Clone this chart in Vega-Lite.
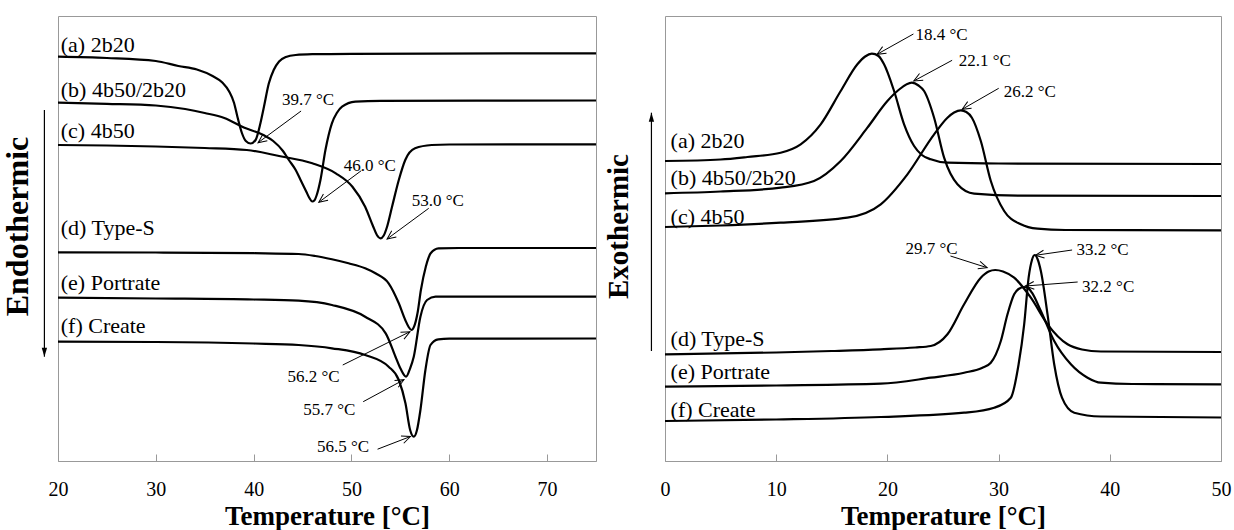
{
  "$schema": "https://vega.github.io/schema/vega-lite/v6.json",
  "padding": {"left": 0, "top": 15, "right": 0, "bottom": 0},
  "background": "white",
  "spacing": 2,
  "config": {
    "font": "Liberation Serif",
    "view": {"stroke": "#999", "strokeWidth": 1},
    "axis": {"grid": false}
  },
  "datasets": {
    "heating": [
      {"sample": "a", "T": 20, "signal": 404.3}, {"sample": "a", "T": 25, "signal": 403}, {"sample": "a", "T": 30, "signal": 400},
      {"sample": "a", "T": 32.3, "signal": 395}, {"sample": "a", "T": 34.2, "signal": 391.5}, {"sample": "a", "T": 35.8, "signal": 385},
      {"sample": "a", "T": 36.8, "signal": 378.5}, {"sample": "a", "T": 37.5, "signal": 369.5}, {"sample": "a", "T": 38, "signal": 358},
      {"sample": "a", "T": 38.3, "signal": 346}, {"sample": "a", "T": 38.8, "signal": 328}, {"sample": "a", "T": 39.2, "signal": 320},
      {"sample": "a", "T": 39.7, "signal": 317.5}, {"sample": "a", "T": 40.2, "signal": 321}, {"sample": "a", "T": 40.7, "signal": 338},
      {"sample": "a", "T": 41.05, "signal": 354}, {"sample": "a", "T": 41.55, "signal": 377.5}, {"sample": "a", "T": 42.05, "signal": 391},
      {"sample": "a", "T": 42.6, "signal": 399.5}, {"sample": "a", "T": 43.3, "signal": 404}, {"sample": "a", "T": 44.3, "signal": 406},
      {"sample": "a", "T": 46, "signal": 406.8}, {"sample": "a", "T": 50, "signal": 407.2}, {"sample": "a", "T": 75, "signal": 407.7},

      {"sample": "b", "T": 20, "signal": 358.3}, {"sample": "b", "T": 25, "signal": 357.2}, {"sample": "b", "T": 30, "signal": 355.5},
      {"sample": "b", "T": 33, "signal": 352}, {"sample": "b", "T": 35, "signal": 348}, {"sample": "b", "T": 37, "signal": 343},
      {"sample": "b", "T": 39, "signal": 333.5}, {"sample": "b", "T": 41, "signal": 326}, {"sample": "b", "T": 42, "signal": 320},
      {"sample": "b", "T": 43, "signal": 310}, {"sample": "b", "T": 43.6, "signal": 301}, {"sample": "b", "T": 44.3, "signal": 291},
      {"sample": "b", "T": 44.8, "signal": 281}, {"sample": "b", "T": 45.4, "signal": 269}, {"sample": "b", "T": 45.7, "signal": 263},
      {"sample": "b", "T": 46, "signal": 259.5}, {"sample": "b", "T": 46.2, "signal": 260.5}, {"sample": "b", "T": 46.45, "signal": 266},
      {"sample": "b", "T": 46.83, "signal": 281}, {"sample": "b", "T": 47.34, "signal": 311}, {"sample": "b", "T": 48, "signal": 337.7},
      {"sample": "b", "T": 48.5, "signal": 348}, {"sample": "b", "T": 49.04, "signal": 354.3}, {"sample": "b", "T": 50.4, "signal": 359.3},
      {"sample": "b", "T": 53, "signal": 360.2}, {"sample": "b", "T": 75, "signal": 360.5},

      {"sample": "c", "T": 20, "signal": 316}, {"sample": "c", "T": 25, "signal": 315.5}, {"sample": "c", "T": 30, "signal": 314.5},
      {"sample": "c", "T": 35, "signal": 313}, {"sample": "c", "T": 39.3, "signal": 311}, {"sample": "c", "T": 42.6, "signal": 305},
      {"sample": "c", "T": 46, "signal": 297.7}, {"sample": "c", "T": 48.4, "signal": 287.7}, {"sample": "c", "T": 50.1, "signal": 274.3},
      {"sample": "c", "T": 51.4, "signal": 254.3}, {"sample": "c", "T": 52.2, "signal": 235}, {"sample": "c", "T": 52.6, "signal": 226},
      {"sample": "c", "T": 52.97, "signal": 222.7}, {"sample": "c", "T": 53.3, "signal": 225.5}, {"sample": "c", "T": 53.6, "signal": 233},
      {"sample": "c", "T": 54.15, "signal": 254.3}, {"sample": "c", "T": 54.84, "signal": 281}, {"sample": "c", "T": 55.5, "signal": 301},
      {"sample": "c", "T": 56.5, "signal": 312.7}, {"sample": "c", "T": 58.2, "signal": 316}, {"sample": "c", "T": 60, "signal": 316.5},
      {"sample": "c", "T": 75, "signal": 316.7},

      {"sample": "d", "T": 20, "signal": 208.7}, {"sample": "d", "T": 30, "signal": 208.5}, {"sample": "d", "T": 40, "signal": 207.8},
      {"sample": "d", "T": 44.6, "signal": 207}, {"sample": "d", "T": 46.3, "signal": 205}, {"sample": "d", "T": 48, "signal": 201.7},
      {"sample": "d", "T": 49.7, "signal": 197.7}, {"sample": "d", "T": 51.4, "signal": 192.7}, {"sample": "d", "T": 52.45, "signal": 187.7},
      {"sample": "d", "T": 53.8, "signal": 177.7}, {"sample": "d", "T": 54.84, "signal": 157.7}, {"sample": "d", "T": 55.5, "signal": 141},
      {"sample": "d", "T": 55.85, "signal": 134}, {"sample": "d", "T": 56.13, "signal": 131}, {"sample": "d", "T": 56.4, "signal": 134.3},
      {"sample": "d", "T": 56.75, "signal": 147.7}, {"sample": "d", "T": 57.1, "signal": 171}, {"sample": "d", "T": 57.6, "signal": 194.3},
      {"sample": "d", "T": 58.1, "signal": 207.7}, {"sample": "d", "T": 58.9, "signal": 212.7}, {"sample": "d", "T": 61, "signal": 213},
      {"sample": "d", "T": 75, "signal": 213},

      {"sample": "e", "T": 20, "signal": 163.3}, {"sample": "e", "T": 30, "signal": 162.5}, {"sample": "e", "T": 40, "signal": 161.5},
      {"sample": "e", "T": 44.6, "signal": 160.3}, {"sample": "e", "T": 48, "signal": 156}, {"sample": "e", "T": 51.4, "signal": 144.3},
      {"sample": "e", "T": 53.5, "signal": 127.7}, {"sample": "e", "T": 54.5, "signal": 104.3}, {"sample": "e", "T": 55, "signal": 92.7},
      {"sample": "e", "T": 55.58, "signal": 84.3}, {"sample": "e", "T": 56, "signal": 92.7}, {"sample": "e", "T": 56.37, "signal": 104.3},
      {"sample": "e", "T": 57.05, "signal": 144.3}, {"sample": "e", "T": 57.73, "signal": 161}, {"sample": "e", "T": 58.6, "signal": 164.3},
      {"sample": "e", "T": 60, "signal": 164.3}, {"sample": "e", "T": 75, "signal": 164.3},

      {"sample": "f", "T": 20, "signal": 119.3}, {"sample": "f", "T": 30, "signal": 119}, {"sample": "f", "T": 40, "signal": 117.5},
      {"sample": "f", "T": 44.6, "signal": 116}, {"sample": "f", "T": 48, "signal": 112.7}, {"sample": "f", "T": 51.4, "signal": 106},
      {"sample": "f", "T": 53.8, "signal": 94.3}, {"sample": "f", "T": 54.84, "signal": 81}, {"sample": "f", "T": 55.52, "signal": 57.7},
      {"sample": "f", "T": 56, "signal": 31}, {"sample": "f", "T": 56.37, "signal": 24.3}, {"sample": "f", "T": 56.7, "signal": 31},
      {"sample": "f", "T": 57.05, "signal": 51}, {"sample": "f", "T": 57.56, "signal": 91}, {"sample": "f", "T": 58.08, "signal": 116},
      {"sample": "f", "T": 58.88, "signal": 121.7}, {"sample": "f", "T": 60, "signal": 122.3}, {"sample": "f", "T": 75, "signal": 122.5}
    ],
    "cooling": [
      {"sample": "a", "T": 0, "signal": 300}, {"sample": "a", "T": 5, "signal": 301.5}, {"sample": "a", "T": 7.4, "signal": 304},
      {"sample": "a", "T": 10.4, "signal": 308.3}, {"sample": "a", "T": 12.2, "signal": 316.7}, {"sample": "a", "T": 14, "signal": 336.7},
      {"sample": "a", "T": 15.8, "signal": 370}, {"sample": "a", "T": 17.3, "signal": 396.7}, {"sample": "a", "T": 18, "signal": 404.5},
      {"sample": "a", "T": 18.6, "signal": 407.3}, {"sample": "a", "T": 19.2, "signal": 405}, {"sample": "a", "T": 19.7, "signal": 396.7},
      {"sample": "a", "T": 20.6, "signal": 370}, {"sample": "a", "T": 21.5, "signal": 336.7}, {"sample": "a", "T": 22.4, "signal": 315},
      {"sample": "a", "T": 23.1, "signal": 306}, {"sample": "a", "T": 23.9, "signal": 301.7}, {"sample": "a", "T": 25.4, "signal": 298.3},
      {"sample": "a", "T": 30, "signal": 297.5}, {"sample": "a", "T": 50, "signal": 297},

      {"sample": "b", "T": 0, "signal": 267.7}, {"sample": "b", "T": 5, "signal": 269.5}, {"sample": "b", "T": 10.4, "signal": 273.3},
      {"sample": "b", "T": 13.4, "signal": 280}, {"sample": "b", "T": 15.8, "signal": 300}, {"sample": "b", "T": 18.2, "signal": 333.3},
      {"sample": "b", "T": 20, "signal": 360}, {"sample": "b", "T": 21, "signal": 371}, {"sample": "b", "T": 22.2, "signal": 378.3},
      {"sample": "b", "T": 22.8, "signal": 375.5}, {"sample": "b", "T": 23.3, "signal": 370}, {"sample": "b", "T": 24.2, "signal": 343.3},
      {"sample": "b", "T": 25.1, "signal": 303.3}, {"sample": "b", "T": 26.3, "signal": 276.7}, {"sample": "b", "T": 27.8, "signal": 267.3},
      {"sample": "b", "T": 32, "signal": 265.3}, {"sample": "b", "T": 50, "signal": 265},

      {"sample": "c", "T": 0, "signal": 234}, {"sample": "c", "T": 5, "signal": 235.5}, {"sample": "c", "T": 10.4, "signal": 238.3},
      {"sample": "c", "T": 16.4, "signal": 243.3}, {"sample": "c", "T": 19.4, "signal": 256.7}, {"sample": "c", "T": 21.8, "signal": 286.7},
      {"sample": "c", "T": 24.2, "signal": 326.7}, {"sample": "c", "T": 25.4, "signal": 343.3}, {"sample": "c", "T": 26, "signal": 348.5},
      {"sample": "c", "T": 26.6, "signal": 350.7}, {"sample": "c", "T": 27.1, "signal": 349}, {"sample": "c", "T": 27.6, "signal": 343.3},
      {"sample": "c", "T": 28.4, "signal": 320}, {"sample": "c", "T": 29.3, "signal": 280}, {"sample": "c", "T": 30.5, "signal": 250},
      {"sample": "c", "T": 32, "signal": 236.7}, {"sample": "c", "T": 33.5, "signal": 232.3}, {"sample": "c", "T": 36, "signal": 231},
      {"sample": "c", "T": 50, "signal": 230.7},

      {"sample": "d", "T": 0, "signal": 106.7}, {"sample": "d", "T": 10, "signal": 108.5}, {"sample": "d", "T": 15, "signal": 110},
      {"sample": "d", "T": 19.4, "signal": 111.7}, {"sample": "d", "T": 22.5, "signal": 113.5}, {"sample": "d", "T": 23.9, "signal": 115},
      {"sample": "d", "T": 25.4, "signal": 126.7}, {"sample": "d", "T": 26.9, "signal": 156.7}, {"sample": "d", "T": 28.4, "signal": 183.3},
      {"sample": "d", "T": 29.1, "signal": 189.5}, {"sample": "d", "T": 29.7, "signal": 191}, {"sample": "d", "T": 30.4, "signal": 189.5},
      {"sample": "d", "T": 31.4, "signal": 183.3}, {"sample": "d", "T": 32.9, "signal": 163.3}, {"sample": "d", "T": 34.4, "signal": 136.7},
      {"sample": "d", "T": 36.2, "signal": 116.7}, {"sample": "d", "T": 37.5, "signal": 111.5}, {"sample": "d", "T": 39.2, "signal": 109.5},
      {"sample": "d", "T": 50, "signal": 109},

      {"sample": "e", "T": 0, "signal": 74.3}, {"sample": "e", "T": 10, "signal": 75.5}, {"sample": "e", "T": 19.4, "signal": 77.3},
      {"sample": "e", "T": 23.9, "signal": 83.3}, {"sample": "e", "T": 26.9, "signal": 88.3}, {"sample": "e", "T": 28.5, "signal": 93},
      {"sample": "e", "T": 29.3, "signal": 98.3}, {"sample": "e", "T": 30.2, "signal": 120}, {"sample": "e", "T": 30.8, "signal": 146.7},
      {"sample": "e", "T": 31.4, "signal": 166.7}, {"sample": "e", "T": 31.8, "signal": 172}, {"sample": "e", "T": 32.3, "signal": 174},
      {"sample": "e", "T": 32.7, "signal": 172.5}, {"sample": "e", "T": 33, "signal": 168.3}, {"sample": "e", "T": 33.8, "signal": 150},
      {"sample": "e", "T": 35, "signal": 120}, {"sample": "e", "T": 36.5, "signal": 96.7}, {"sample": "e", "T": 38, "signal": 83.3},
      {"sample": "e", "T": 39.2, "signal": 78.3}, {"sample": "e", "T": 42, "signal": 77}, {"sample": "e", "T": 50, "signal": 76.7},

      {"sample": "f", "T": 0, "signal": 40}, {"sample": "f", "T": 10, "signal": 41.5}, {"sample": "f", "T": 19.4, "signal": 44},
      {"sample": "f", "T": 26.9, "signal": 48.3}, {"sample": "f", "T": 29.6, "signal": 53.3}, {"sample": "f", "T": 31.1, "signal": 63.3},
      {"sample": "f", "T": 31.8, "signal": 96.7}, {"sample": "f", "T": 32.3, "signal": 136.7}, {"sample": "f", "T": 32.7, "signal": 183.3},
      {"sample": "f", "T": 33, "signal": 201}, {"sample": "f", "T": 33.25, "signal": 206}, {"sample": "f", "T": 33.5, "signal": 202},
      {"sample": "f", "T": 33.8, "signal": 190}, {"sample": "f", "T": 34.4, "signal": 146.7}, {"sample": "f", "T": 35, "signal": 96.7},
      {"sample": "f", "T": 35.7, "signal": 63.3}, {"sample": "f", "T": 36.8, "signal": 48.3}, {"sample": "f", "T": 39.2, "signal": 44.5},
      {"sample": "f", "T": 50, "signal": 43.5}
    ],
    "heatLabels": [
      {"label": "(a) 2b20", "T": 20.28, "signal": 409.3},
      {"label": "(b) 4b50/2b20", "T": 20.28, "signal": 364.3},
      {"label": "(c) 4b50", "T": 20.28, "signal": 322.7},
      {"label": "(d) Type-S", "T": 20.28, "signal": 226},
      {"label": "(e) Portrate", "T": 20.28, "signal": 171},
      {"label": "(f) Create", "T": 20.28, "signal": 127.7}
    ],
    "coolLabels": [
      {"label": "(a) 2b20", "T": 0.5, "signal": 312.7},
      {"label": "(b) 4b50/2b20", "T": 0.5, "signal": 276},
      {"label": "(c) 4b50", "T": 0.5, "signal": 237.3},
      {"label": "(d) Type-S", "T": 0.5, "signal": 115},
      {"label": "(e) Portrate", "T": 0.5, "signal": 81.7},
      {"label": "(f) Create", "T": 0.5, "signal": 44.3}
    ],
    "heatNotes": [
      {"label": "39.7 °C", "tx": 42.9, "ty": 356, "x1": 44.85, "y1": 350, "x2": 40.45, "y2": 318.3, "angle": 234},
      {"label": "46.0 °C", "tx": 49.2, "ty": 290, "x1": 51.0, "y1": 290.3, "x2": 46.66, "y2": 258.7, "angle": 233.5},
      {"label": "53.0 °C", "tx": 56.17, "ty": 255, "x1": 57.9, "y1": 252.7, "x2": 53.64, "y2": 222, "angle": 233.6},
      {"label": "56.2 °C", "tx": 43.45, "ty": 79.5, "x1": 49.11, "y1": 96, "x2": 55.98, "y2": 129.3, "angle": 63},
      {"label": "55.7 °C", "tx": 45.07, "ty": 46, "x1": 51.2, "y1": 59.3, "x2": 55.37, "y2": 81.3, "angle": 61},
      {"label": "56.5 °C", "tx": 46.48, "ty": 9.5, "x1": 52.67, "y1": 11.8, "x2": 56.03, "y2": 24.5, "angle": 69}
    ],
    "coolNotes": [
      {"label": "18.4 °C", "tx": 22.52, "ty": 421, "x1": 22.34, "y1": 427, "x2": 19.07, "y2": 406.7, "angle": 240},
      {"label": "22.1 °C", "tx": 26.41, "ty": 395, "x1": 25.82, "y1": 400.7, "x2": 22.37, "y2": 380, "angle": 241.7},
      {"label": "26.2 °C", "tx": 30.46, "ty": 364.5, "x1": 30.01, "y1": 372.7, "x2": 26.72, "y2": 351.7, "angle": 240},
      {"label": "29.7 °C", "tx": 21.62, "ty": 207, "x1": 25.67, "y1": 205, "x2": 28.97, "y2": 193.3, "angle": 107.7},
      {"label": "33.2 °C", "tx": 37.0, "ty": 206, "x1": 36.61, "y1": 211, "x2": 33.31, "y2": 205.7, "angle": 262},
      {"label": "32.2 °C", "tx": 37.51, "ty": 169.5, "x1": 37.11, "y1": 179, "x2": 32.41, "y2": 175, "angle": 265.6}
    ],
    "heatArrow": [{"T": 18.61, "y1": 351, "y2": 104.3}],
    "coolArrow": [{"T": -1.22, "y1": 110, "y2": 348.3}]
  },
  "hconcat": [
    {
      "width": 538,
      "height": 445,
      "layer": [
        {
          "data": {"name": "heating"},
          "mark": {"type": "line", "interpolate": "monotone", "color": "black", "strokeWidth": 2.2},
          "encoding": {
            "x": {
              "field": "T", "type": "quantitative",
              "scale": {"domain": [20, 75], "nice": false, "zero": false},
              "axis": {
                "title": "Temperature [°C]", "values": [20, 30, 40, 50, 60, 70], "format": "d",
                "labelFontSize": 20, "labelColor": "black", "labelPadding": 25, "labelFlush": false,
                "tickSize": -7, "tickColor": "#999", "domainColor": "#999",
                "titleFontSize": 27, "titleFontWeight": "bold", "titleColor": "black", "titlePadding": 4
              }
            },
            "y": {
              "field": "signal", "type": "quantitative",
              "scale": {"domain": [0, 445], "nice": false, "zero": false},
              "axis": {
                "title": "Endothermic", "labels": false, "ticks": false, "domain": false,
                "titleFontSize": 32, "titleFontWeight": "bold", "titleColor": "black",
                "titlePadding": 24, "titleY": 210
              }
            },
            "detail": {"field": "sample"}
          }
        },
        {
          "data": {"name": "heatLabels"},
          "mark": {"type": "text", "align": "left", "baseline": "alphabetic", "fontSize": 22, "color": "black"},
          "encoding": {
            "x": {"field": "T", "type": "quantitative"},
            "y": {"field": "signal", "type": "quantitative"},
            "text": {"field": "label"}
          }
        },
        {
          "data": {"name": "heatNotes"},
          "mark": {"type": "text", "align": "left", "baseline": "alphabetic", "fontSize": 17, "color": "black"},
          "encoding": {
            "x": {"field": "tx", "type": "quantitative"},
            "y": {"field": "ty", "type": "quantitative"},
            "text": {"field": "label"}
          }
        },
        {
          "data": {"name": "heatNotes"},
          "mark": {"type": "rule", "color": "black", "strokeWidth": 1},
          "encoding": {
            "x": {"field": "x1", "type": "quantitative"},
            "y": {"field": "y1", "type": "quantitative"},
            "x2": {"field": "x2"},
            "y2": {"field": "y2"}
          }
        },
        {
          "data": {"name": "heatNotes"},
          "mark": {"type": "point", "shape": "M-0.45,1L0,0L0.45,1", "filled": false, "stroke": "black", "strokeWidth": 1, "size": 300, "opacity": 1},
          "encoding": {
            "x": {"field": "x2", "type": "quantitative"},
            "y": {"field": "y2", "type": "quantitative"},
            "angle": {"field": "angle", "type": "quantitative", "scale": null}
          }
        },
        {
          "data": {"name": "heatArrow"},
          "mark": {"type": "rule", "color": "black", "strokeWidth": 1.2},
          "encoding": {
            "x": {"field": "T", "type": "quantitative"},
            "y": {"field": "y1", "type": "quantitative"},
            "y2": {"field": "y2"}
          }
        },
        {
          "data": {"name": "heatArrow"},
          "mark": {"type": "point", "shape": "M-0.6,-2L0.6,-2L0,0Z", "filled": true, "color": "black", "size": 80, "opacity": 1},
          "encoding": {
            "x": {"field": "T", "type": "quantitative"},
            "y": {"field": "y2", "type": "quantitative"}
          }
        }
      ]
    },
    {
      "width": 556,
      "height": 445,
      "layer": [
        {
          "data": {"name": "cooling"},
          "mark": {"type": "line", "interpolate": "monotone", "color": "black", "strokeWidth": 2.2},
          "encoding": {
            "x": {
              "field": "T", "type": "quantitative",
              "scale": {"domain": [0, 50], "nice": false, "zero": false},
              "axis": {
                "title": "Temperature [°C]", "values": [0, 10, 20, 30, 40, 50], "format": "d",
                "labelFontSize": 20, "labelColor": "black", "labelPadding": 25, "labelFlush": false,
                "tickSize": -7, "tickColor": "#999", "domainColor": "#999",
                "titleFontSize": 27, "titleFontWeight": "bold", "titleColor": "black", "titlePadding": 4
              }
            },
            "y": {
              "field": "signal", "type": "quantitative",
              "scale": {"domain": [0, 445], "nice": false, "zero": false},
              "axis": {
                "title": "Exothermic", "labels": false, "ticks": false, "domain": false,
                "titleFontSize": 29, "titleFontWeight": "bold", "titleColor": "black",
                "titlePadding": 32, "titleY": 210
              }
            },
            "detail": {"field": "sample"}
          }
        },
        {
          "data": {"name": "coolLabels"},
          "mark": {"type": "text", "align": "left", "baseline": "alphabetic", "fontSize": 22, "color": "black"},
          "encoding": {
            "x": {"field": "T", "type": "quantitative"},
            "y": {"field": "signal", "type": "quantitative"},
            "text": {"field": "label"}
          }
        },
        {
          "data": {"name": "coolNotes"},
          "mark": {"type": "text", "align": "left", "baseline": "alphabetic", "fontSize": 17, "color": "black"},
          "encoding": {
            "x": {"field": "tx", "type": "quantitative"},
            "y": {"field": "ty", "type": "quantitative"},
            "text": {"field": "label"}
          }
        },
        {
          "data": {"name": "coolNotes"},
          "mark": {"type": "rule", "color": "black", "strokeWidth": 1},
          "encoding": {
            "x": {"field": "x1", "type": "quantitative"},
            "y": {"field": "y1", "type": "quantitative"},
            "x2": {"field": "x2"},
            "y2": {"field": "y2"}
          }
        },
        {
          "data": {"name": "coolNotes"},
          "mark": {"type": "point", "shape": "M-0.45,1L0,0L0.45,1", "filled": false, "stroke": "black", "strokeWidth": 1, "size": 300, "opacity": 1},
          "encoding": {
            "x": {"field": "x2", "type": "quantitative"},
            "y": {"field": "y2", "type": "quantitative"},
            "angle": {"field": "angle", "type": "quantitative", "scale": null}
          }
        },
        {
          "data": {"name": "coolArrow"},
          "mark": {"type": "rule", "color": "black", "strokeWidth": 1.2},
          "encoding": {
            "x": {"field": "T", "type": "quantitative"},
            "y": {"field": "y1", "type": "quantitative"},
            "y2": {"field": "y2"}
          }
        },
        {
          "data": {"name": "coolArrow"},
          "mark": {"type": "point", "shape": "M-0.6,2L0.6,2L0,0Z", "filled": true, "color": "black", "size": 80, "opacity": 1},
          "encoding": {
            "x": {"field": "T", "type": "quantitative"},
            "y": {"field": "y2", "type": "quantitative"}
          }
        }
      ]
    }
  ]
}
